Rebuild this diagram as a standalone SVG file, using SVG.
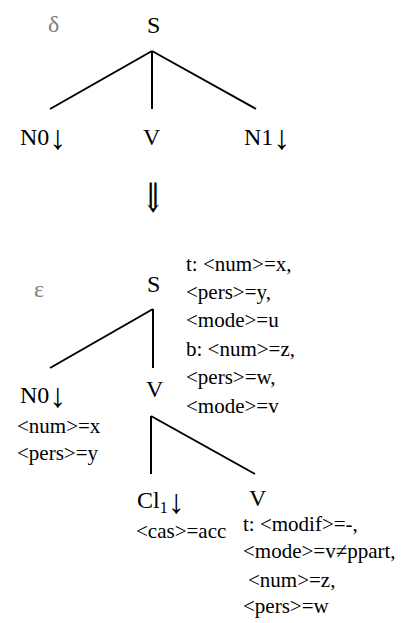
<svg xmlns="http://www.w3.org/2000/svg" width="402" height="623" viewBox="0 0 402 623">
<style>
text{font-family:"Liberation Serif","Times New Roman","DejaVu Serif",serif;fill:#000}
.lab{font-size:24px}
.att{font-size:21px}
.grk{font-size:24px;fill:#808080}
.arr{font-size:34px}
.edge{stroke:#000;stroke-width:2;fill:none}
</style>
<rect width="402" height="623" fill="#fff"/>
<g id="connectors">
<line class="edge" x1="152" y1="51" x2="50" y2="109"/>
<line class="edge" x1="152" y1="51" x2="152" y2="109"/>
<line class="edge" x1="152" y1="51" x2="256" y2="109"/>
<line class="edge" x1="153" y1="309" x2="50" y2="368"/>
<line class="edge" x1="153" y1="309" x2="153" y2="368"/>
<line class="edge" x1="151" y1="416" x2="151" y2="474"/>
<line class="edge" x1="151" y1="416" x2="255" y2="474"/>
</g>
<g id="delta-label"><text class="grk" x="48" y="32">δ</text></g>
<g id="top-S"><text class="lab" x="147" y="33">S</text></g>
<g id="top-N0"><text class="lab" x="20" y="145">N0<tspan class="arr" dy="4">↓</tspan></text></g>
<g id="top-V"><text class="lab" x="143" y="145">V</text></g>
<g id="top-N1"><text class="lab" x="244" y="145">N1<tspan class="arr" dy="4">↓</tspan></text></g>
<g id="derive-arrow"><text class="lab" transform="translate(153,212) scale(1.15,1.7)" text-anchor="middle">⇓</text></g>
<g id="eps-label"><text class="grk" x="34" y="297">ε</text></g>
<g id="bot-S">
<text class="lab" x="147" y="292">S</text>
<text class="att" x="186" y="271">t: &lt;num&gt;=x,</text>
<text class="att" x="186" y="299">&lt;pers&gt;=y,</text>
<text class="att" x="186" y="327">&lt;mode&gt;=u</text>
<text class="att" x="186" y="356">b: &lt;num&gt;=z,</text>
<text class="att" x="186" y="384">&lt;pers&gt;=w,</text>
<text class="att" x="186" y="413">&lt;mode&gt;=v</text>
</g>
<g id="bot-N0">
<text class="lab" x="20" y="403">N0<tspan class="arr" dy="4">↓</tspan></text>
<text class="att" x="17" y="433">&lt;num&gt;=x</text>
<text class="att" x="17" y="460">&lt;pers&gt;=y</text>
</g>
<g id="bot-V"><text class="lab" x="146" y="397">V</text></g>
<g id="bot-Cl">
<text class="lab" x="137" y="508">Cl<tspan font-size="16" dy="5">1</tspan><tspan class="arr" dy="0">↓</tspan></text>
<text class="att" x="136" y="538">&lt;cas&gt;=acc</text>
</g>
<g id="bot-V2">
<text class="lab" x="249" y="506">V</text>
<text class="att" x="243" y="531">t: &lt;modif&gt;=-,</text>
<text class="att" x="243" y="558">&lt;mode&gt;=v≠ppart,</text>
<text class="att" x="248" y="587">&lt;num&gt;=z,</text>
<text class="att" x="243" y="613">&lt;pers&gt;=w</text>
</g>
</svg>
